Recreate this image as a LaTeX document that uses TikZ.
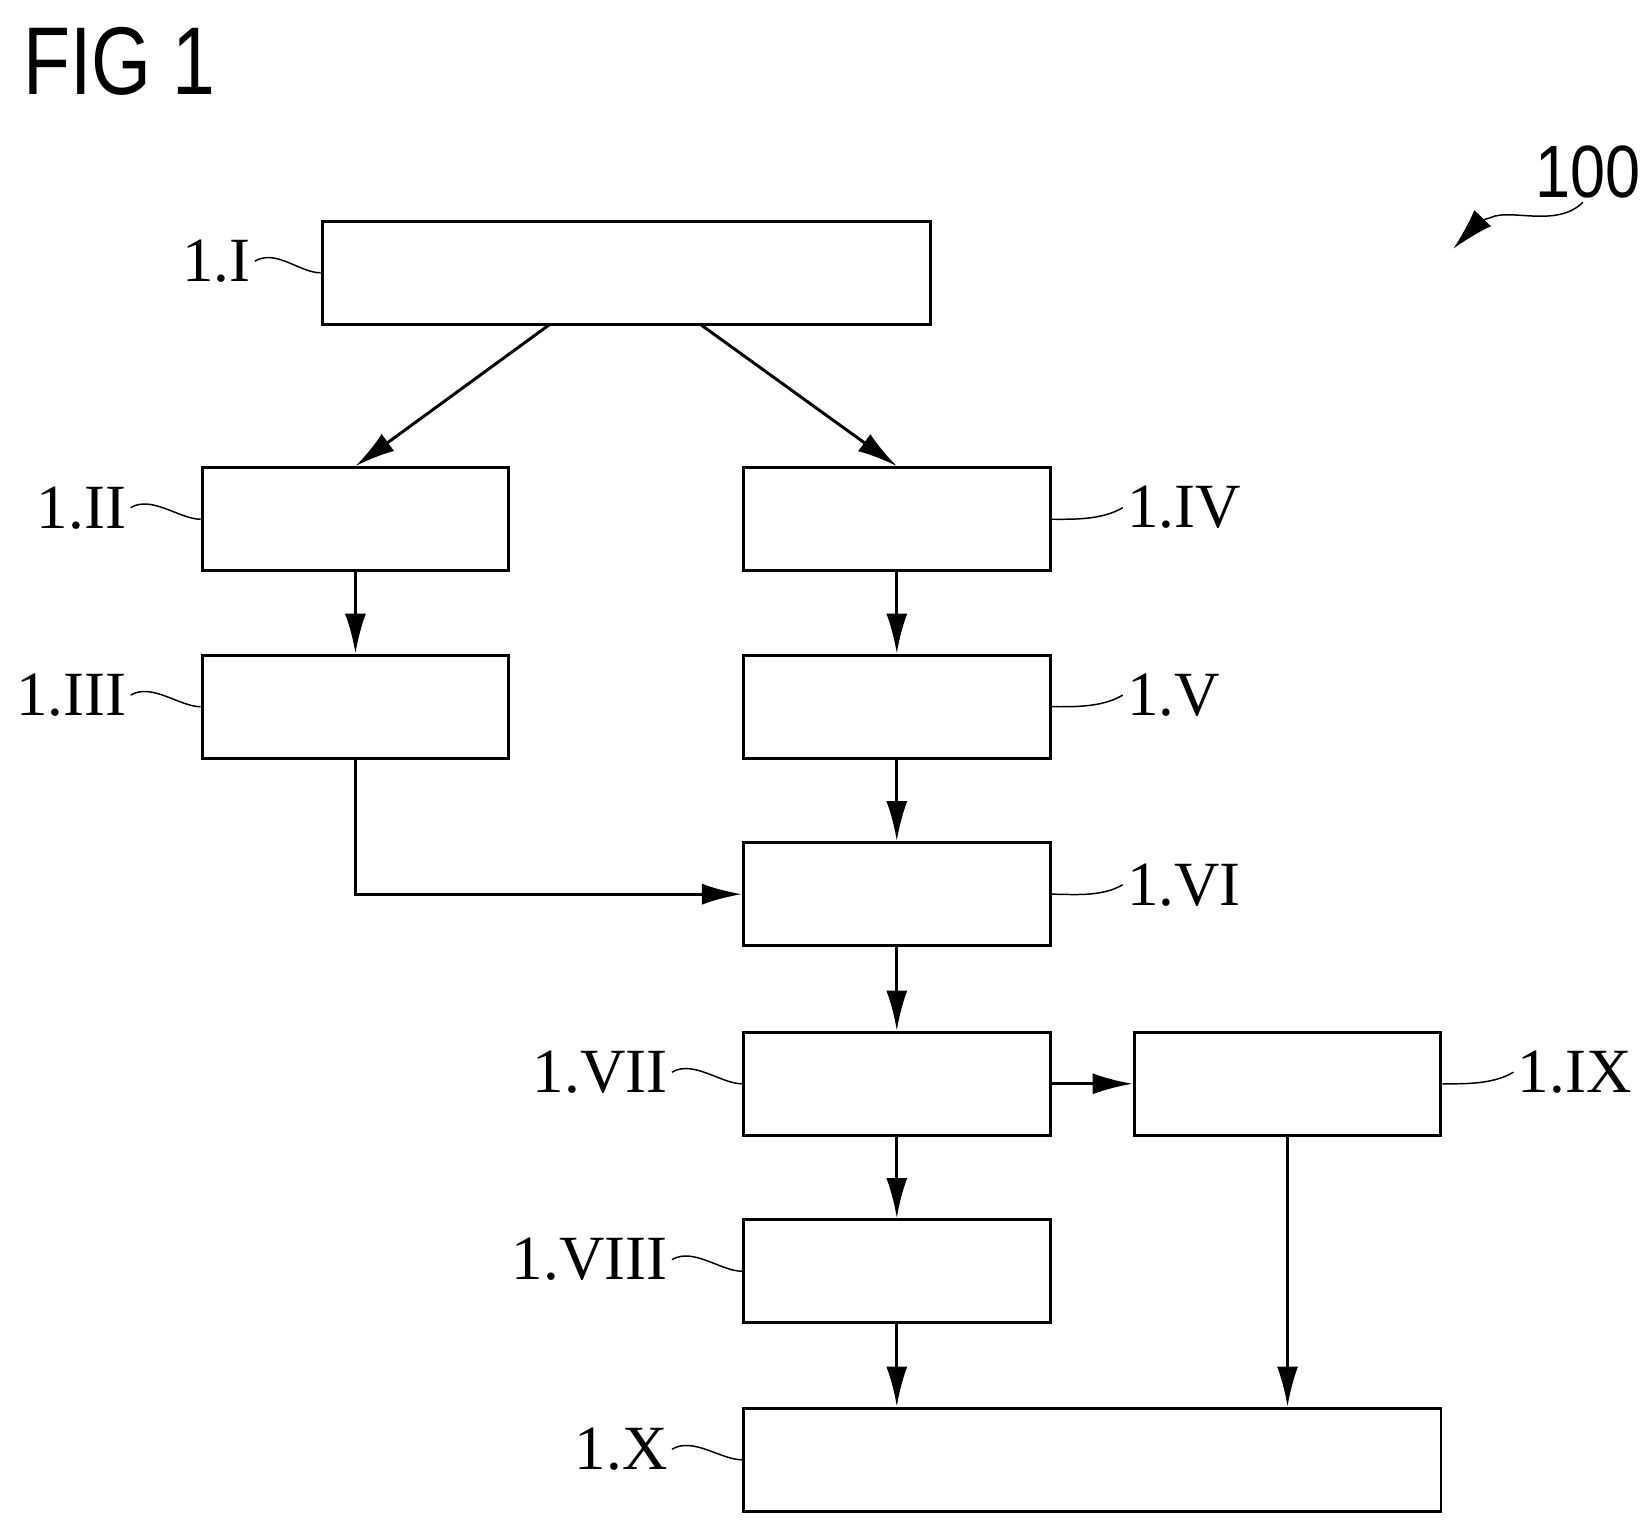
\documentclass[tikz,border=0pt]{standalone}
\usepackage{fontspec}
\setmainfont{Liberation Serif}
\newfontfamily\figfont{Liberation Sans}
\usetikzlibrary{arrows.meta}
\tikzset{
  stage/.style={draw, thick, minimum height=0.98cm, inner sep=0pt},
  flow/.style={thick, -{Latex[length=0.38cm,width=0.2cm]}},
  tag/.style={font=\fontsize{17}{17}\selectfont, inner sep=1pt},
  lead/.style={thin}
}
\begin{document}
\begin{tikzpicture}[x=0.01cm,y=-0.01cm]
  \useasboundingbox (0,0) rectangle (1560,1450);
  \node[font=\figfont\fontsize{26}{26}\selectfont, anchor=west, xscale=0.8] (fig) at (12,58) {FIG 1};
  \node[font=\figfont\fontsize{20}{20}\selectfont, xscale=0.85] (ref) at (1508,163) {100};
  \coordinate (refend) at (1380,236);
  \draw[thin, -{Latex[length=0.4cm,width=0.22cm]}] (1503,192) .. controls (1480,215) and (1440,200) .. (1420,205) .. controls (1405,210) .. (refend);

  % boxes
  \node[stage, minimum width=5.77cm] (s1) at (594.5,259) {};
  \node[stage, minimum width=2.91cm] (s2) at (337.5,493) {};
  \node[stage, minimum width=2.91cm] (s3) at (337.5,671) {};
  \node[stage, minimum width=2.91cm] (s4) at (851.5,493) {};
  \node[stage, minimum width=2.91cm] (s5) at (851.5,671) {};
  \node[stage, minimum width=2.91cm] (s6) at (851.5,849) {};
  \node[stage, minimum width=2.91cm] (s7) at (851.5,1029) {};
  \node[stage, minimum width=2.91cm] (s8) at (851.5,1207) {};
  \node[stage, minimum width=2.91cm] (s9) at (1222.5,1029) {};
  \node[stage, minimum width=6.62cm] (s10) at (1037,1386) {};

  % labels with leaders
  \node[tag, anchor=east] (l1) at (242,248) {1.I};
  \node[tag, anchor=east] (l2) at (124,482) {1.II};
  \node[tag, anchor=east] (l3) at (124,660) {1.III};
  \node[tag, anchor=west] (l4) at (1066,482) {1.IV};
  \node[tag, anchor=west] (l5) at (1066,660) {1.V};
  \node[tag, anchor=west] (l6) at (1066,840) {1.VI};
  \node[tag, anchor=east] (l7) at (638,1018) {1.VII};
  \node[tag, anchor=east] (l8) at (638,1196) {1.VIII};
  \node[tag, anchor=west] (l9) at (1437,1018) {1.IX};
  \node[tag, anchor=east] (l10) at (638,1376) {1.X};
  \foreach \l/\s in {l1/s1,l2/s2,l3/s3,l7/s7,l8/s8,l10/s10}
    \draw[lead] (\l.east) .. controls +(20,-12) and +(-20,0) .. (\s.west);
  \foreach \l/\s in {l4/s4,l5/s5,l6/s6,l9/s9}
    \draw[lead] (\s.east) .. controls +(20,0) and +(-20,12) .. (\l.west);

  % connectors
  \draw[flow] (522,308) -- (s2.north);
  \draw[flow] (665,308) -- (s4.north);
  \draw[flow] (s2) -- (s3);
  \draw[flow] (s4) -- (s5);
  \draw[flow] (s5) -- (s6);
  \draw[flow] (s3.south) |- (s6.west);
  \draw[flow] (s6) -- (s7);
  \draw[flow] (s7) -- (s8);
  \draw[flow] (s7) -- (s9);
  \draw[flow] (s8) -- (s8 |- s10.north);
  \draw[flow] (s9) -- (s9 |- s10.north);
\end{tikzpicture}
\end{document}
